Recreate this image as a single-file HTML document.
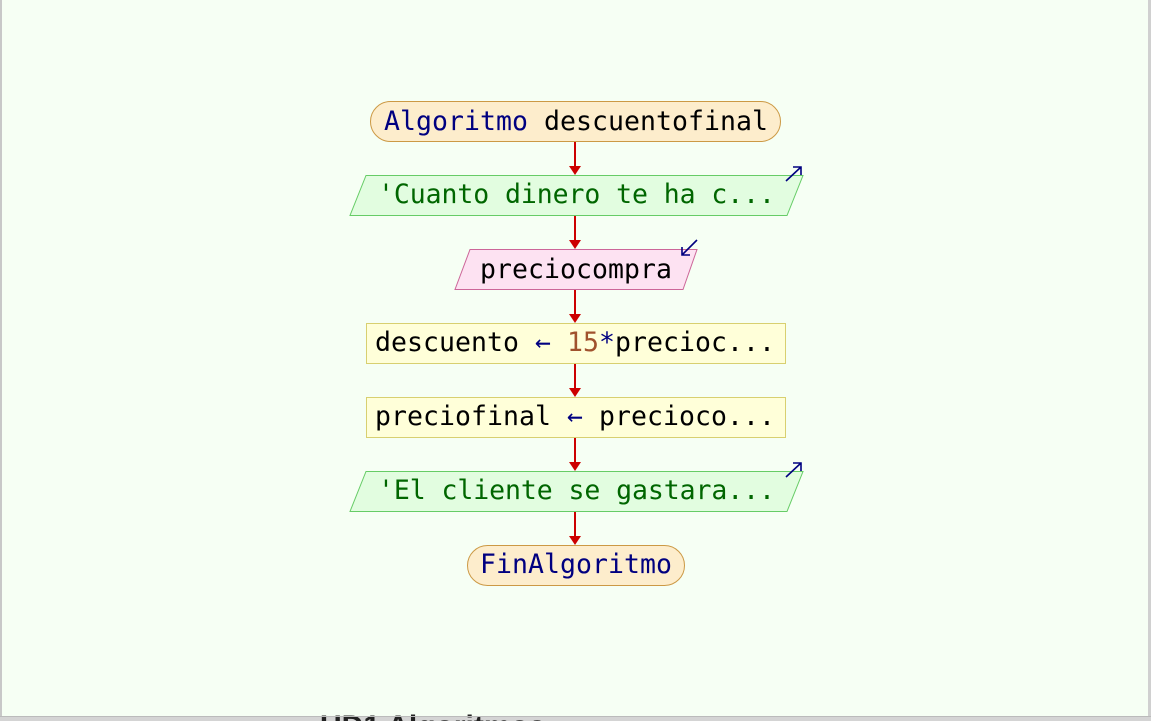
<!DOCTYPE html>
<html><head><meta charset="utf-8"><style>
html,body{margin:0;padding:0;width:1151px;height:721px;overflow:hidden;background:#f6fff4;}
svg{display:block;}
text{font-family:"DejaVu Sans Mono","Liberation Mono",monospace;font-size:26.5px;}
</style></head><body>
<svg width="1151" height="721" viewBox="0 0 1151 721" xmlns="http://www.w3.org/2000/svg">
<rect x="0" y="0" width="1151" height="721" fill="#f6fff4"/>
<rect x="0" y="0" width="2" height="717" fill="#c8c8c8"/>
<rect x="1148" y="0" width="3" height="717" fill="#d0d0d0"/>
<rect x="0" y="716" width="1151" height="5" fill="#d4d4d4"/>
<text x="320" y="736" style="font-family:'Liberation Sans',sans-serif;font-size:30px;font-weight:bold" fill="#222">UD1 Algoritmos</text>
<rect x="0" y="716" width="1151" height="1" fill="#bbb"/>

<g stroke="#cc0000" stroke-width="2" fill="#cc0000">
<line x1="575" y1="141" x2="575" y2="168"/><polygon points="569,166 581,166 575,175" stroke="none"/>
<line x1="575" y1="215" x2="575" y2="242"/><polygon points="569,240 581,240 575,249" stroke="none"/>
<line x1="575" y1="289" x2="575" y2="316"/><polygon points="569,314 581,314 575,323" stroke="none"/>
<line x1="575" y1="363" x2="575" y2="390"/><polygon points="569,388 581,388 575,397" stroke="none"/>
<line x1="575" y1="437" x2="575" y2="464"/><polygon points="569,462 581,462 575,471" stroke="none"/>
<line x1="575" y1="511" x2="575" y2="538"/><polygon points="569,536 581,536 575,545" stroke="none"/>
</g>

<rect x="370.5" y="101.5" width="410" height="40" rx="20" fill="#fdedcc" stroke="#cc9944"/>
<text x="384" y="130" textLength="384" fill="#000080">Algoritmo <tspan fill="#000">descuentofinal</tspan></text>

<polygon points="366,175.5 803,175.5 787,215.5 350,215.5" fill="#e2fde0" stroke="#66cc66"/>
<text x="378" y="203" textLength="397" fill="#006600">'Cuanto dinero te ha c...</text>
<path d="M786,181 L801,167 M793,167 L801,167 L801,175" stroke="#000080" stroke-width="1.6" fill="none"/>

<polygon points="470,249.5 697,249.5 683,289.5 455,289.5" fill="#fde2f2" stroke="#cc6699"/>
<text x="480" y="278" textLength="192" fill="#000">preciocompra</text>
<path d="M697,240 L682,255 M682,247 L682,255 L690,255" stroke="#000080" stroke-width="1.6" fill="none"/>

<rect x="366.5" y="323.5" width="419" height="40" fill="#ffffd9" stroke="#d8d070"/>
<text x="375" y="351" textLength="400" fill="#000">descuento <tspan fill="#000080">←</tspan> <tspan fill="#a0522d">15</tspan><tspan fill="#000080">*</tspan>precioc...</text>

<rect x="366.5" y="397.5" width="419" height="40" fill="#ffffd9" stroke="#d8d070"/>
<text x="375" y="425" textLength="400" fill="#000">preciofinal <tspan fill="#000080">←</tspan> precioco...</text>

<polygon points="366,471.5 803,471.5 787,511.5 350,511.5" fill="#e2fde0" stroke="#66cc66"/>
<text x="378" y="499" textLength="397" fill="#006600">'El cliente se gastara...</text>
<path d="M786,477 L801,463 M793,463 L801,463 L801,471" stroke="#000080" stroke-width="1.6" fill="none"/>

<rect x="467.5" y="545.5" width="217" height="40" rx="20" fill="#fdedcc" stroke="#cc9944"/>
<text x="480" y="573" textLength="192" fill="#000080">FinAlgoritmo</text>
</svg>
</body></html>
